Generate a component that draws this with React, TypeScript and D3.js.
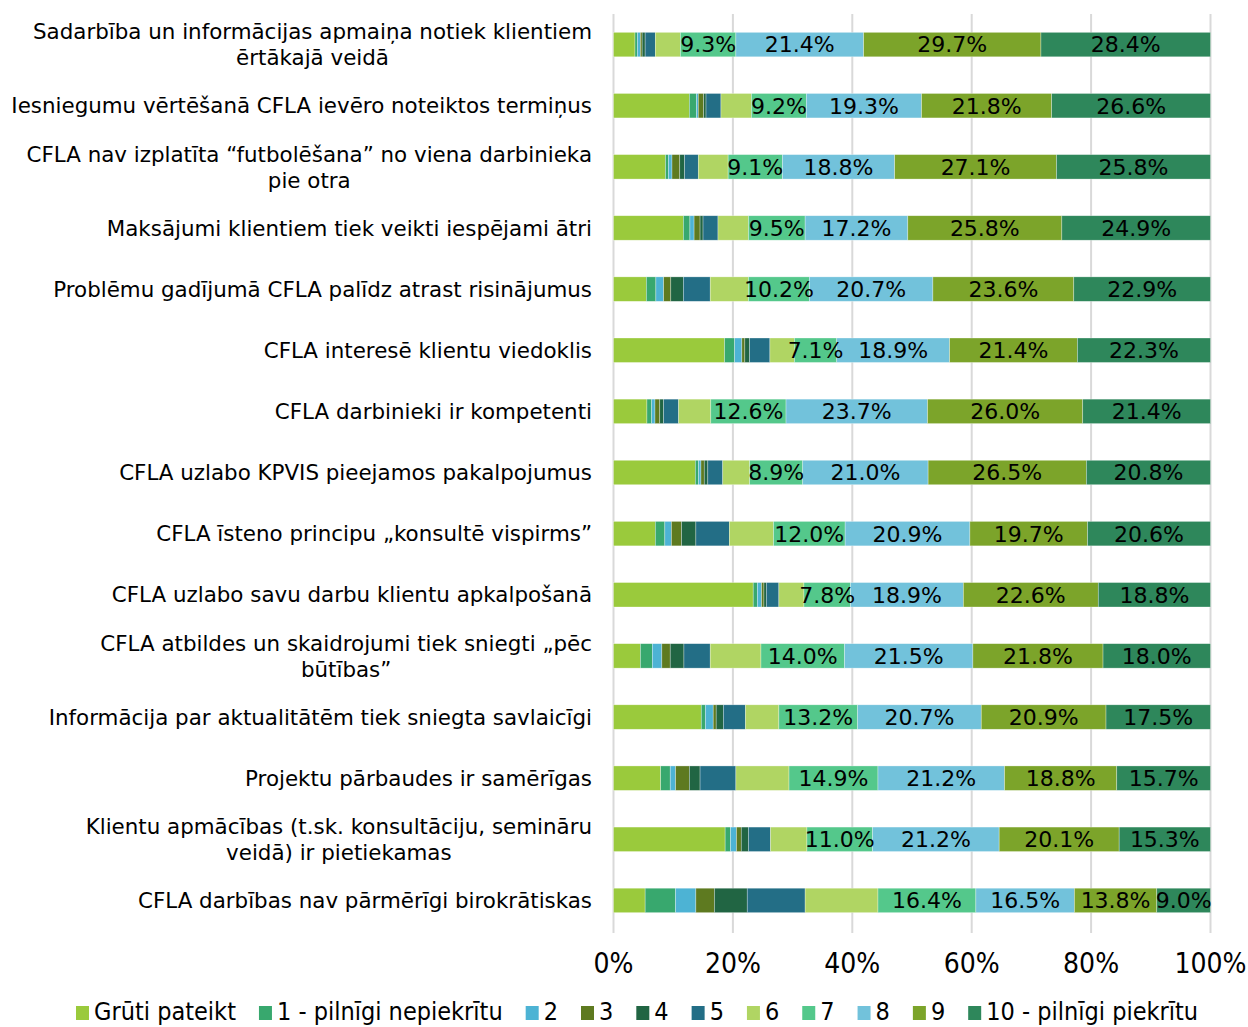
import React, { useEffect, useRef } from 'react';
import * as d3 from 'd3';

const categories = [
  'Sadarbība un informācijas apmaiņa notiek klientiem|ērtākajā veidā',
  'Iesniegumu vērtēšanā CFLA ievēro noteiktos termiņus',
  'CFLA nav izplatīta “futbolēšana” no viena darbinieka|pie otra',
  'Maksājumi klientiem tiek veikti iespējami ātri',
  'Problēmu gadījumā CFLA palīdz atrast risinājumus',
  'CFLA interesē klientu viedoklis',
  'CFLA darbinieki ir kompetenti',
  'CFLA uzlabo KPVIS pieejamos pakalpojumus',
  'CFLA īsteno principu „konsultē vispirms”',
  'CFLA uzlabo savu darbu klientu apkalpošanā',
  'CFLA atbildes un skaidrojumi tiek sniegti „pēc|būtības”',
  'Informācija par aktualitātēm tiek sniegta savlaicīgi',
  'Projektu pārbaudes ir samērīgas',
  'Klientu apmācības (t.sk. konsultāciju, semināru|veidā) ir pietiekamas',
  'CFLA darbības nav pārmērīgi birokrātiskas',
];

const seriesNames = ['Grūti pateikt', '1 - pilnīgi nepiekrītu', '2', '3', '4', '5', '6', '7', '8', '9', '10 - pilnīgi piekrītu'];

const gruti = [3.6, 12.7, 8.7, 11.7, 5.5, 18.6, 5.6, 13.7, 7.0, 23.4, 4.5, 14.7, 7.9, 18.7, 5.3];
const s1 = [0.4, 1.2, 0.5, 1.1, 1.6, 1.7, 0.8, 0.55, 1.6, 0.7, 2.0, 0.7, 1.6, 0.9, 5.1];
const s2 = [0.5, 0.3, 0.6, 0.7, 1.3, 1.2, 0.55, 0.4, 1.1, 0.7, 1.6, 1.3, 0.9, 1.0, 3.4];
const s3 = [0.3, 0.9, 1.3, 1.0, 1.2, 0.5, 0.8, 0.55, 1.7, 0.4, 1.4, 0.5, 2.3, 0.8, 3.1];
const s4 = [0.5, 0.4, 0.8, 0.5, 2.1, 0.8, 0.65, 0.6, 2.4, 0.4, 2.3, 1.2, 1.8, 1.2, 5.5];
const s5 = [1.7, 2.5, 2.3, 2.5, 4.5, 3.4, 2.5, 2.5, 5.6, 2.1, 4.4, 3.7, 6.0, 3.7, 9.7];
const s6 = [4.2, 5.1, 5.0, 5.1, 6.4, 4.1, 5.4, 4.5, 7.4, 4.2, 8.5, 5.6, 8.9, 6.1, 12.2];
const s7 = [9.3, 9.2, 9.1, 9.5, 10.2, 7.1, 12.6, 8.9, 12.0, 7.8, 14.0, 13.2, 14.9, 11.0, 16.4];
const s8 = [21.4, 19.3, 18.8, 17.2, 20.7, 18.9, 23.7, 21.0, 20.9, 18.9, 21.5, 20.7, 21.2, 21.2, 16.5];
const s9 = [29.7, 21.8, 27.1, 25.8, 23.6, 21.4, 26.0, 26.5, 19.7, 22.6, 21.8, 20.9, 18.8, 20.1, 13.8];
const s10 = [28.4, 26.6, 25.8, 24.9, 22.9, 22.3, 21.4, 20.8, 20.6, 18.8, 18.0, 17.5, 15.7, 15.3, 9.0];

const seriesValues = [gruti, s1, s2, s3, s4, s5, s6, s7, s8, s9, s10];
const colors = ['#9aca3c', '#38a86e', '#4db3d4', '#5e7a20', '#216543', '#236e86', '#b0d563', '#54c88b', '#72c2db', '#7ca42a', '#2e875b'];
const labelledSeries = [7, 8, 9, 10];
const xTicks = [0, 20, 40, 60, 80, 100];

const W = 1248;
const H = 1027;

export default function App() {
  const svgRef = useRef<SVGSVGElement>(null);

  useEffect(() => {
    if (!svgRef.current) return;
    const svg = d3.select(svgRef.current);
    svg.selectAll('*').remove();

    const rows = categories.map((c, i) => {
      const r: any = { cat: c };
      seriesNames.forEach((s, k) => { r[s] = seriesValues[k][i]; });
      return r;
    });

    const x = d3.scaleLinear().domain([0, 100]).range([613.5, 1210.5]);
    const y = d3.scaleBand().domain(categories).range([14, 931]).paddingInner(0.6).paddingOuter(0.3);

    const stacked = d3.stack<any>().keys(seriesNames)(rows);

    // grid
    svg.append('g').selectAll('line')
      .data(xTicks)
      .enter().append('line')
      .attr('x1', d => x(d)).attr('x2', d => x(d))
      .attr('y1', 14).attr('y2', 933)
      .attr('stroke', '#d9d9d9')
      .attr('stroke-width', 2);

    // bars
    const layers = svg.append('g').selectAll('g')
      .data(stacked)
      .enter().append('g')
      .attr('fill', (_, k) => colors[k]);

    layers.selectAll('rect')
      .data(d => d as any)
      .enter().append('rect')
      .attr('x', (d: any) => x(d[0]))
      .attr('width', (d: any) => Math.max(0, x(d[1]) - x(d[0])))
      .attr('y', (d: any) => y(d.data.cat) as number)
      .attr('height', y.bandwidth())
      .attr('stroke', '#ffffff')
      .attr('stroke-opacity', 0.5)
      .attr('stroke-width', 0.6);

    // value labels
    labelledSeries.forEach(k => {
      svg.append('g').selectAll('text')
        .data(stacked[k] as any)
        .enter().append('text')
        .attr('x', (d: any) => (x(d[0]) + x(d[1])) / 2)
        .attr('y', (d: any) => (y(d.data.cat) as number) + y.bandwidth() / 2)
        .attr('dy', '0.36em')
        .attr('text-anchor', 'middle')
        .attr('font-family', 'DejaVu Sans, Verdana, sans-serif')
        .attr('font-size', 22)
        .attr('fill', '#000')
        .text((d: any) => `${(d[1] - d[0]).toFixed(1)}%`);
    });

    // category labels
    const catG = svg.append('g');
    categories.forEach(c => {
      const lines = c.split('|');
      const cy = (y(c) as number) + y.bandwidth() / 2;
      const t = catG.append('text')
        .attr('font-family', 'DejaVu Sans, Verdana, sans-serif')
        .attr('font-size', 21.4)
        .attr('fill', '#000')
        .attr('text-anchor', 'middle');
      lines.forEach((ln, i) => {
        t.append('tspan')
          .attr('x', 0)
          .attr('y', cy + (i - (lines.length - 1) / 2) * 26)
          .attr('dy', '0.36em')
          .text(ln);
      });
      const w = (t.node() as SVGTextElement).getBBox().width;
      t.selectAll('tspan').attr('x', 592 - w / 2);
    });

    // x axis labels
    svg.append('g').selectAll('text')
      .data(xTicks)
      .enter().append('text')
      .attr('x', d => x(d))
      .attr('y', 963)
      .attr('dy', '0.36em')
      .attr('text-anchor', 'middle')
      .attr('font-family', 'DejaVu Sans Condensed, DejaVu Sans, sans-serif')
      .attr('font-stretch', 'condensed')
      .attr('font-size', 28)
      .attr('fill', '#000')
      .text(d => `${d}%`);

    // legend
    const leg = svg.append('g');
    let cx = 0;
    seriesNames.forEach((s, k) => {
      const item = leg.append('g').attr('transform', `translate(${cx},0)`);
      item.append('rect')
        .attr('x', 0).attr('y', 1006)
        .attr('width', 13).attr('height', 14)
        .attr('fill', colors[k]);
      const t = item.append('text')
        .attr('x', 18).attr('y', 1011)
        .attr('dy', '0.36em')
        .attr('font-family', 'DejaVu Sans Condensed, DejaVu Sans, sans-serif')
        .attr('font-stretch', 'condensed')
        .attr('font-size', 25)
        .attr('fill', '#000')
        .text(s);
      const tw = (t.node() as SVGTextElement).getComputedTextLength();
      cx += 18 + tw + 23;
    });
    leg.attr('transform', `translate(76,0)`);
  }, []);

  return (
    <svg
      ref={svgRef}
      width={W}
      height={H}
      viewBox={`0 0 ${W} ${H}`}
      style={{ position: 'absolute', left: 0, top: 0, background: '#fff' }}
    />
  );
}
